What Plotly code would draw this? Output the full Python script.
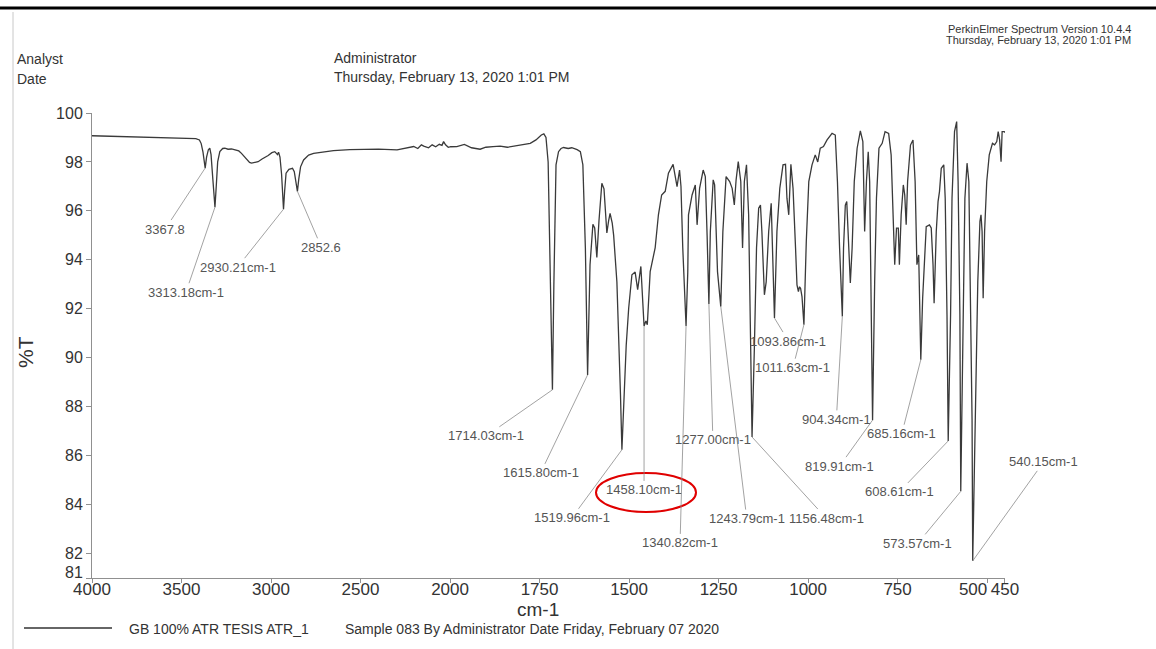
import numpy as np
import plotly.graph_objects as go

# ---------------- data ----------------
wavenumber = [
    4000, 3900, 3800, 3700, 3600, 3500, 3450, 3420, 3400, 3390, 3380, 3372, 3367.8, 3360, 3350, 3342,
    3335, 3325, 3318, 3313.18, 3306, 3298, 3286, 3270, 3258, 3240, 3221, 3200, 3180, 3165, 3140, 3120,
    3109, 3090, 3072, 3050, 3030, 3016, 2995, 2979, 2970, 2964, 2958, 2950, 2941, 2935, 2930.21, 2924,
    2916, 2900, 2880, 2870, 2860, 2852.6, 2845, 2835, 2818, 2790, 2762, 2700, 2651, 2560, 2483, 2400,
    2296, 2250, 2203, 2180, 2160, 2147, 2120, 2100, 2080, 2060, 2045, 2036, 2025, 2010, 2000,
    1981, 1960, 1940, 1916, 1900, 1880, 1860, 1840, 1820, 1800, 1776, 1760, 1745, 1738, 1732, 1726,
    1720, 1714.03, 1710, 1706, 1704, 1697, 1690, 1683, 1670, 1660, 1655, 1645, 1636, 1629, 1622,
    1615.80, 1609, 1601, 1596, 1590, 1584, 1576, 1570, 1565, 1562, 1557, 1553, 1547, 1543, 1534,
    1530, 1524, 1519.96, 1515, 1508, 1501, 1492, 1483, 1476, 1467, 1462, 1458.10, 1453, 1449, 1441,
    1427, 1418, 1409, 1399, 1390, 1377, 1366, 1359, 1355, 1350, 1345, 1340.82, 1336, 1334, 1324,
    1315, 1310, 1303, 1293, 1287, 1282, 1277.00, 1273, 1265, 1261, 1253, 1243.79, 1238, 1229, 1219,
    1212, 1206, 1201, 1195, 1188, 1183, 1178, 1172, 1166, 1161, 1156.48, 1150, 1144, 1138, 1133,
    1129, 1122, 1117, 1110, 1103, 1099, 1093.86, 1087, 1079, 1070, 1063, 1059, 1054, 1048, 1042,
    1035, 1031, 1027, 1024, 1021, 1017, 1011.63, 1005, 998, 989, 980, 973, 966, 957, 947, 933, 924,
    918, 912, 904.34, 901, 896, 892, 887, 882, 877, 871, 863, 854, 847, 842, 837, 832, 828, 824,
    819.91, 814, 809, 802, 793, 785, 775, 768, 763, 758, 753, 748, 745, 740, 734, 730, 726, 722,
    714, 707, 701, 696, 691, 685.16, 680, 675, 670, 661, 656, 651, 648, 642, 637, 633, 628, 621,
    617, 612, 608.61, 602, 598, 591, 585, 581, 576, 573.57, 567, 562, 556, 551, 546, 542, 540.15,
    532, 526, 520, 517, 514, 511, 507, 501, 494, 485, 479, 473, 469, 465, 461, 458, 452, 450,
]
transmittance = [
    99.07, 99.05, 99.02, 99.00, 98.99, 98.98, 98.98, 98.95, 98.90, 98.75, 98.40, 98.00, 97.75, 98.20, 98.50, 98.56,
    98.30, 97.30, 96.50, 96.15, 97.00, 98.00, 98.42, 98.55, 98.56, 98.52, 98.53, 98.48, 98.45, 98.35, 98.15, 97.98,
    97.95, 97.97, 98.01, 98.12, 98.20, 98.26, 98.38, 98.42, 98.35, 98.30, 98.40, 98.20, 97.50, 96.80, 96.07, 96.80,
    97.54, 97.70, 97.74, 97.60, 97.20, 96.80, 97.30, 97.80, 98.08, 98.28, 98.35, 98.42, 98.46, 98.50, 98.52, 98.52,
    98.49, 98.55, 98.63, 98.55, 98.70, 98.65, 98.58, 98.70, 98.62, 98.72, 98.68, 98.83, 98.70, 98.60, 98.62,
    98.63, 98.72, 98.58, 98.52, 98.60, 98.63, 98.65, 98.60, 98.65, 98.70, 98.76, 98.90, 99.10, 99.15, 99.00, 98.00,
    94.00, 88.69, 93.00, 96.50, 97.88, 98.42, 98.55, 98.59, 98.55, 98.58, 98.56, 98.50, 98.42, 97.88, 94.48,
    89.30, 93.80, 95.45, 95.30, 94.10, 95.60, 97.13, 96.90, 95.80, 95.10, 95.60, 95.90, 95.50, 95.00, 93.10,
    91.50, 88.50, 86.24, 88.00, 90.50, 92.03, 93.39, 93.50, 92.78, 93.73, 92.50, 91.30, 91.50, 91.35, 93.52,
    94.50, 95.84, 96.65, 96.80, 97.54, 97.90, 96.99, 97.67, 97.00, 94.48, 92.50, 91.30, 93.50, 95.84, 96.65,
    97.06, 95.43, 96.92, 97.67, 97.40, 95.00, 92.20, 95.16, 97.27, 97.06, 93.52, 92.09, 95.16, 97.40, 97.20,
    96.92, 96.24, 97.27, 98.01, 97.20, 94.48, 97.20, 97.88, 95.84, 91.07, 86.76, 90.40, 94.48, 96.11, 96.24,
    95.16, 92.57, 93.10, 95.16, 96.31, 94.48, 91.62, 95.16, 96.92, 97.88, 97.90, 96.52, 95.84, 97.90, 96.92,
    94.48, 92.98, 92.70, 92.90, 92.84, 92.50, 91.35, 94.75, 97.20, 97.88, 98.29, 98.00, 98.56, 98.63, 98.90, 99.17, 99.10,
    97.20, 94.48, 91.69, 94.48, 96.24, 96.38, 94.48, 93.05, 94.48, 97.20, 98.56, 99.27, 98.83, 95.16, 97.20, 98.42, 97.20, 93.10,
    87.45, 93.10, 96.52, 98.56, 98.76, 99.24, 99.17, 98.29, 95.84, 93.80, 95.30, 95.30, 93.80, 95.84, 97.06, 96.65, 95.43, 97.20,
    98.69, 98.90, 97.20, 93.80, 94.20, 89.92, 92.43, 94.20, 95.36, 95.43, 95.30, 93.80, 92.23, 95.16, 96.38, 96.79, 97.74, 97.88,
    96.52, 91.76, 86.60, 91.76, 96.52, 99.24, 99.65, 97.20, 91.76, 84.54, 91.76, 96.52, 97.95, 97.20, 91.76, 87.50, 81.70,
    87.67, 93.10, 95.57, 95.84, 95.16, 92.43, 95.16, 97.20, 98.29, 98.76, 98.70, 98.83, 99.24, 98.90, 98.01, 99.24, 99.24, 99.20,
]

peak_wn = [3367.8, 3313.18, 2930.21, 2852.6, 1714.03, 1615.80, 1519.96, 1458.10, 1340.82, 1277.00,
           1243.79, 1156.48, 1093.86, 1011.63, 904.34, 819.91, 685.16, 608.61, 573.57, 540.15]
peak_text = ["3367.8", "3313.18cm-1", "2930.21cm-1", "2852.6", "1714.03cm-1", "1615.80cm-1",
             "1519.96cm-1", "1458.10cm-1", "1340.82cm-1", "1277.00cm-1", "1243.79cm-1", "1156.48cm-1",
             "1093.86cm-1", "1011.63cm-1", "904.34cm-1", "819.91cm-1", "685.16cm-1", "608.61cm-1",
             "573.57cm-1", "540.15cm-1"]

x_ticks_left = [4000, 3500, 3000, 2500, 2000]
x_ticks_right = [1750, 1500, 1250, 1000, 750, 450]
x_tick_500 = [500]
y_ticks = [82, 84, 86, 88, 90, 92, 94, 96, 98, 100]
y_tick_81 = [81]

# ---------------- layout helpers ----------------
W, H = 1156, 649
ML, MR, MT, MB = 92, 151, 113, 71
PL, PR, PT, PB = ML, W - MR, MT, H - MB


def px(x):
    return (x - PL) / (PR - PL)


def py(y):
    return (PB - y) / (PB - PT)


FONT = "Liberation Sans, Arial, sans-serif"

# label offsets (pixels, label centre relative to peak)
label_dx = [-40, -29, -46, 24, -66, -47, -50, 0, -6, 4, 26, 74, 14, -11, -6, -33, -19, -49, -43, 71]
label_dy = [61, 85, 58, 56, 46, 98, 68, 164, 217, 136, 212, 81, 23, 43, 103, 46, 74, 51, 52, -99]

wn = np.array(wavenumber, dtype=float)
tr = np.array(transmittance, dtype=float)
left = wn >= 2000
right = wn <= 2000

split = 2000 / (2000 + 2 * (2000 - 450))

LINE = dict(color="#3a3a3a", width=1.3)
HIDDEN = dict(color="rgba(0,0,0,0)", width=0)
fig = go.Figure()
fig.add_trace(go.Scatter(x=wn[left], y=tr[left], mode="lines", xaxis="x", yaxis="y",
                         line=LINE, showlegend=False, name="GB 100% ATR TESIS ATR_1"))
fig.add_trace(go.Scatter(x=wn[right], y=tr[right], mode="lines", xaxis="x2", yaxis="y",
                         line=LINE, showlegend=False, name="GB 100% ATR TESIS ATR_1"))
# invisible companion traces so the overlay axes (for the "500" and "81" labels) are drawn
fig.add_trace(go.Scatter(x=wn[right], y=tr[right], mode="lines", xaxis="x3", yaxis="y",
                         line=HIDDEN, showlegend=False, hoverinfo="skip"))
fig.add_trace(go.Scatter(x=wn[left], y=tr[left], mode="lines", xaxis="x", yaxis="y2",
                         line=HIDDEN, showlegend=False, hoverinfo="skip"))

annotations = []
order = np.argsort(wn)
for w, t, dx, dy in zip(peak_wn, peak_text, label_dx, label_dy):
    yv = float(np.interp(w, wn[order], tr[order]))
    annotations.append(dict(
        x=w, y=yv, xref="x" if w > 2000 else "x2", yref="y", text=t,
        showarrow=True, arrowhead=0, arrowwidth=0.8, arrowcolor="#8a8a8a",
        ax=dx, ay=dy, standoff=0, font=dict(family=FONT, size=13, color="#555555"),
    ))


def txt(x, y, s, size, anchor="left", color="#333333", angle=0):
    return dict(x=px(x), y=py(y), xref="paper", yref="paper", text=s, showarrow=False,
                xanchor=anchor, yanchor="middle", textangle=angle,
                font=dict(family=FONT, size=size, color=color))


annotations += [
    txt(15, 59, "Analyst", 14),
    txt(15, 79, "Date", 14),
    txt(332, 58, "Administrator", 14),
    txt(332, 77, "Thursday, February 13, 2020 1:01 PM", 14),
    txt(1133, 29, "PerkinElmer Spectrum Version 10.4.4", 11, anchor="right"),
    txt(1133, 40, "Thursday, February 13, 2020 1:01 PM", 11, anchor="right"),
    txt(25, 352, "%T", 21, anchor="center", angle=-90),
    txt(538, 609, "cm-1", 19, anchor="center"),
    txt(127, 629, "GB 100% ATR TESIS ATR_1", 14),
    txt(343, 629, "Sample 083 By Administrator Date Friday, February 07 2020", 14),
]

shapes = [
    dict(type="line", xref="paper", yref="paper", x0=px(0), x1=px(W), y0=py(8), y1=py(8),
         line=dict(color="#000000", width=3)),
    dict(type="line", xref="paper", yref="paper", x0=px(13), x1=px(13), y0=py(12), y1=py(H),
         line=dict(color="#c8c8c8", width=1)),
    dict(type="line", xref="paper", yref="paper", x0=px(24), x1=px(112), y0=py(628), y1=py(628),
         line=dict(color="#333333", width=1.6)),
    dict(type="circle", xref="paper", yref="paper", x0=px(596), x1=px(696), y0=py(512), y1=py(473),
         line=dict(color="#e00000", width=2)),
]

XFONT = dict(family=FONT, size=17, color="#333333")
YFONT = dict(family=FONT, size=16, color="#333333")
axis_common = dict(showgrid=False, zeroline=False, showline=True, linecolor="#909090", linewidth=1,
                   ticks="outside", ticklen=4, tickcolor="#909090", tickangle=0, tickfont=XFONT,
                   ticklabelstandoff=-8)

fig.update_layout(
    width=W, height=H,
    margin=dict(l=ML, r=MR, t=MT, b=MB),
    paper_bgcolor="white", plot_bgcolor="white",
    xaxis=dict(domain=[0, split], range=[4000, 2000], tickvals=x_ticks_left,
               ticktext=[str(v) for v in x_ticks_left], anchor="y", **axis_common),
    xaxis2=dict(domain=[split, 1], range=[2000, 450], tickvals=x_ticks_right,
                ticktext=[str(v) for v in x_ticks_right], anchor="y", **axis_common),
    xaxis3=dict(overlaying="x2", range=[2000, 450], tickvals=x_tick_500,
                ticktext=[str(v) for v in x_tick_500], anchor="y", side="bottom",
                showgrid=False, zeroline=False, showline=False, ticks="outside", ticklen=4,
                tickcolor="#909090", tickangle=0, tickfont=XFONT, ticklabelshift=14,
                ticklabelstandoff=-8),
    yaxis=dict(range=[81, 100], tickvals=y_ticks, ticktext=[str(v) for v in y_ticks],
               showgrid=False, zeroline=False, showline=True, linecolor="#909090", linewidth=1,
               ticks="outside", ticklen=5, tickcolor="#909090", tickfont=YFONT),
    yaxis2=dict(overlaying="y", range=[81, 100], tickvals=y_tick_81,
                ticktext=[str(v) for v in y_tick_81], anchor="x", side="left",
                showgrid=False, zeroline=False, showline=False, ticks="outside", ticklen=5,
                tickcolor="#909090", tickfont=YFONT, ticklabelshift=-6),
    annotations=annotations,
    shapes=shapes,
    showlegend=False,
)

fig.write_html("out.html")
